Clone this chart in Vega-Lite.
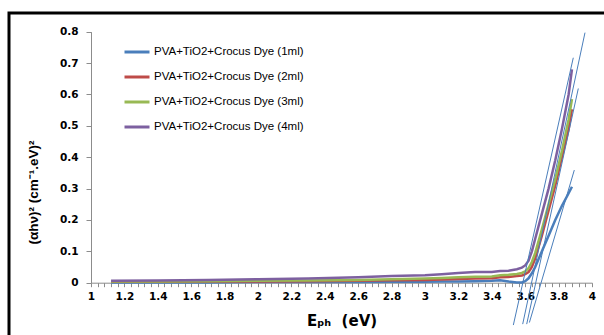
{
  "$schema": "https://vega.github.io/schema/vega-lite/v6.json",
  "width": 601,
  "height": 328,
  "autosize": {"type": "none"},
  "padding": {"left": 9, "top": 13, "right": -6, "bottom": -6},
  "background": "white",
  "config": {"view": {"stroke": "black", "strokeWidth": 3, "fill": "white"}},
  "datasets": {
    "curves": [
      {"E": 1.12, "v": 0.001, "s": "PVA+TiO2+Crocus Dye (1ml)"},
      {"E": 1.4, "v": 0.001, "s": "PVA+TiO2+Crocus Dye (1ml)"},
      {"E": 1.7, "v": 0.001, "s": "PVA+TiO2+Crocus Dye (1ml)"},
      {"E": 2.0, "v": 0.002, "s": "PVA+TiO2+Crocus Dye (1ml)"},
      {"E": 2.3, "v": 0.002, "s": "PVA+TiO2+Crocus Dye (1ml)"},
      {"E": 2.6, "v": 0.002, "s": "PVA+TiO2+Crocus Dye (1ml)"},
      {"E": 2.8, "v": 0.003, "s": "PVA+TiO2+Crocus Dye (1ml)"},
      {"E": 3.0, "v": 0.003, "s": "PVA+TiO2+Crocus Dye (1ml)"},
      {"E": 3.1, "v": 0.004, "s": "PVA+TiO2+Crocus Dye (1ml)"},
      {"E": 3.2, "v": 0.004, "s": "PVA+TiO2+Crocus Dye (1ml)"},
      {"E": 3.3, "v": 0.005, "s": "PVA+TiO2+Crocus Dye (1ml)"},
      {"E": 3.4, "v": 0.006, "s": "PVA+TiO2+Crocus Dye (1ml)"},
      {"E": 3.45, "v": 0.008, "s": "PVA+TiO2+Crocus Dye (1ml)"},
      {"E": 3.5, "v": 0.004, "s": "PVA+TiO2+Crocus Dye (1ml)"},
      {"E": 3.55, "v": 0.001, "s": "PVA+TiO2+Crocus Dye (1ml)"},
      {"E": 3.58, "v": 0.001, "s": "PVA+TiO2+Crocus Dye (1ml)"},
      {"E": 3.6, "v": 0.005, "s": "PVA+TiO2+Crocus Dye (1ml)"},
      {"E": 3.62, "v": 0.014, "s": "PVA+TiO2+Crocus Dye (1ml)"},
      {"E": 3.64, "v": 0.03, "s": "PVA+TiO2+Crocus Dye (1ml)"},
      {"E": 3.66, "v": 0.05, "s": "PVA+TiO2+Crocus Dye (1ml)"},
      {"E": 3.7, "v": 0.1, "s": "PVA+TiO2+Crocus Dye (1ml)"},
      {"E": 3.74, "v": 0.15, "s": "PVA+TiO2+Crocus Dye (1ml)"},
      {"E": 3.78, "v": 0.2, "s": "PVA+TiO2+Crocus Dye (1ml)"},
      {"E": 3.82, "v": 0.245, "s": "PVA+TiO2+Crocus Dye (1ml)"},
      {"E": 3.86, "v": 0.285, "s": "PVA+TiO2+Crocus Dye (1ml)"},
      {"E": 3.88, "v": 0.306, "s": "PVA+TiO2+Crocus Dye (1ml)"},
      {"E": 1.12, "v": 0.003, "s": "PVA+TiO2+Crocus Dye (2ml)"},
      {"E": 1.4, "v": 0.003, "s": "PVA+TiO2+Crocus Dye (2ml)"},
      {"E": 1.7, "v": 0.004, "s": "PVA+TiO2+Crocus Dye (2ml)"},
      {"E": 2.0, "v": 0.004, "s": "PVA+TiO2+Crocus Dye (2ml)"},
      {"E": 2.3, "v": 0.005, "s": "PVA+TiO2+Crocus Dye (2ml)"},
      {"E": 2.6, "v": 0.006, "s": "PVA+TiO2+Crocus Dye (2ml)"},
      {"E": 2.8, "v": 0.008, "s": "PVA+TiO2+Crocus Dye (2ml)"},
      {"E": 3.0, "v": 0.009, "s": "PVA+TiO2+Crocus Dye (2ml)"},
      {"E": 3.1, "v": 0.01, "s": "PVA+TiO2+Crocus Dye (2ml)"},
      {"E": 3.2, "v": 0.012, "s": "PVA+TiO2+Crocus Dye (2ml)"},
      {"E": 3.3, "v": 0.013, "s": "PVA+TiO2+Crocus Dye (2ml)"},
      {"E": 3.4, "v": 0.014, "s": "PVA+TiO2+Crocus Dye (2ml)"},
      {"E": 3.45, "v": 0.017, "s": "PVA+TiO2+Crocus Dye (2ml)"},
      {"E": 3.5, "v": 0.018, "s": "PVA+TiO2+Crocus Dye (2ml)"},
      {"E": 3.55, "v": 0.021, "s": "PVA+TiO2+Crocus Dye (2ml)"},
      {"E": 3.58, "v": 0.023, "s": "PVA+TiO2+Crocus Dye (2ml)"},
      {"E": 3.6, "v": 0.027, "s": "PVA+TiO2+Crocus Dye (2ml)"},
      {"E": 3.62, "v": 0.034, "s": "PVA+TiO2+Crocus Dye (2ml)"},
      {"E": 3.64, "v": 0.05, "s": "PVA+TiO2+Crocus Dye (2ml)"},
      {"E": 3.66, "v": 0.078, "s": "PVA+TiO2+Crocus Dye (2ml)"},
      {"E": 3.7, "v": 0.15, "s": "PVA+TiO2+Crocus Dye (2ml)"},
      {"E": 3.74, "v": 0.23, "s": "PVA+TiO2+Crocus Dye (2ml)"},
      {"E": 3.78, "v": 0.31, "s": "PVA+TiO2+Crocus Dye (2ml)"},
      {"E": 3.82, "v": 0.4, "s": "PVA+TiO2+Crocus Dye (2ml)"},
      {"E": 3.86, "v": 0.49, "s": "PVA+TiO2+Crocus Dye (2ml)"},
      {"E": 3.88, "v": 0.553, "s": "PVA+TiO2+Crocus Dye (2ml)"},
      {"E": 1.12, "v": 0.004, "s": "PVA+TiO2+Crocus Dye (3ml)"},
      {"E": 1.4, "v": 0.004, "s": "PVA+TiO2+Crocus Dye (3ml)"},
      {"E": 1.7, "v": 0.005, "s": "PVA+TiO2+Crocus Dye (3ml)"},
      {"E": 2.0, "v": 0.006, "s": "PVA+TiO2+Crocus Dye (3ml)"},
      {"E": 2.3, "v": 0.007, "s": "PVA+TiO2+Crocus Dye (3ml)"},
      {"E": 2.6, "v": 0.009, "s": "PVA+TiO2+Crocus Dye (3ml)"},
      {"E": 2.8, "v": 0.011, "s": "PVA+TiO2+Crocus Dye (3ml)"},
      {"E": 3.0, "v": 0.013, "s": "PVA+TiO2+Crocus Dye (3ml)"},
      {"E": 3.1, "v": 0.015, "s": "PVA+TiO2+Crocus Dye (3ml)"},
      {"E": 3.2, "v": 0.017, "s": "PVA+TiO2+Crocus Dye (3ml)"},
      {"E": 3.3, "v": 0.019, "s": "PVA+TiO2+Crocus Dye (3ml)"},
      {"E": 3.4, "v": 0.02, "s": "PVA+TiO2+Crocus Dye (3ml)"},
      {"E": 3.45, "v": 0.024, "s": "PVA+TiO2+Crocus Dye (3ml)"},
      {"E": 3.5, "v": 0.025, "s": "PVA+TiO2+Crocus Dye (3ml)"},
      {"E": 3.55, "v": 0.028, "s": "PVA+TiO2+Crocus Dye (3ml)"},
      {"E": 3.58, "v": 0.031, "s": "PVA+TiO2+Crocus Dye (3ml)"},
      {"E": 3.6, "v": 0.036, "s": "PVA+TiO2+Crocus Dye (3ml)"},
      {"E": 3.62, "v": 0.046, "s": "PVA+TiO2+Crocus Dye (3ml)"},
      {"E": 3.64, "v": 0.066, "s": "PVA+TiO2+Crocus Dye (3ml)"},
      {"E": 3.66, "v": 0.095, "s": "PVA+TiO2+Crocus Dye (3ml)"},
      {"E": 3.7, "v": 0.17, "s": "PVA+TiO2+Crocus Dye (3ml)"},
      {"E": 3.74, "v": 0.25, "s": "PVA+TiO2+Crocus Dye (3ml)"},
      {"E": 3.78, "v": 0.33, "s": "PVA+TiO2+Crocus Dye (3ml)"},
      {"E": 3.82, "v": 0.42, "s": "PVA+TiO2+Crocus Dye (3ml)"},
      {"E": 3.86, "v": 0.52, "s": "PVA+TiO2+Crocus Dye (3ml)"},
      {"E": 3.88, "v": 0.585, "s": "PVA+TiO2+Crocus Dye (3ml)"},
      {"E": 1.12, "v": 0.006, "s": "PVA+TiO2+Crocus Dye (4ml)"},
      {"E": 1.4, "v": 0.007, "s": "PVA+TiO2+Crocus Dye (4ml)"},
      {"E": 1.7, "v": 0.009, "s": "PVA+TiO2+Crocus Dye (4ml)"},
      {"E": 2.0, "v": 0.011, "s": "PVA+TiO2+Crocus Dye (4ml)"},
      {"E": 2.3, "v": 0.013, "s": "PVA+TiO2+Crocus Dye (4ml)"},
      {"E": 2.6, "v": 0.017, "s": "PVA+TiO2+Crocus Dye (4ml)"},
      {"E": 2.8, "v": 0.021, "s": "PVA+TiO2+Crocus Dye (4ml)"},
      {"E": 3.0, "v": 0.024, "s": "PVA+TiO2+Crocus Dye (4ml)"},
      {"E": 3.1, "v": 0.027, "s": "PVA+TiO2+Crocus Dye (4ml)"},
      {"E": 3.2, "v": 0.031, "s": "PVA+TiO2+Crocus Dye (4ml)"},
      {"E": 3.3, "v": 0.034, "s": "PVA+TiO2+Crocus Dye (4ml)"},
      {"E": 3.4, "v": 0.034, "s": "PVA+TiO2+Crocus Dye (4ml)"},
      {"E": 3.45, "v": 0.037, "s": "PVA+TiO2+Crocus Dye (4ml)"},
      {"E": 3.5, "v": 0.038, "s": "PVA+TiO2+Crocus Dye (4ml)"},
      {"E": 3.55, "v": 0.043, "s": "PVA+TiO2+Crocus Dye (4ml)"},
      {"E": 3.58, "v": 0.048, "s": "PVA+TiO2+Crocus Dye (4ml)"},
      {"E": 3.6, "v": 0.055, "s": "PVA+TiO2+Crocus Dye (4ml)"},
      {"E": 3.62, "v": 0.07, "s": "PVA+TiO2+Crocus Dye (4ml)"},
      {"E": 3.64, "v": 0.1, "s": "PVA+TiO2+Crocus Dye (4ml)"},
      {"E": 3.66, "v": 0.14, "s": "PVA+TiO2+Crocus Dye (4ml)"},
      {"E": 3.7, "v": 0.22, "s": "PVA+TiO2+Crocus Dye (4ml)"},
      {"E": 3.74, "v": 0.3, "s": "PVA+TiO2+Crocus Dye (4ml)"},
      {"E": 3.78, "v": 0.39, "s": "PVA+TiO2+Crocus Dye (4ml)"},
      {"E": 3.82, "v": 0.49, "s": "PVA+TiO2+Crocus Dye (4ml)"},
      {"E": 3.86, "v": 0.6, "s": "PVA+TiO2+Crocus Dye (4ml)"},
      {"E": 3.88, "v": 0.68, "s": "PVA+TiO2+Crocus Dye (4ml)"}
    ],
    "tangents": [
      {"id": "t1", "E": 3.888, "v": 0.717},
      {"id": "t1", "E": 3.529, "v": -0.135},
      {"id": "t2", "E": 3.958, "v": 0.797},
      {"id": "t2", "E": 3.585, "v": -0.132},
      {"id": "t3", "E": 3.918, "v": 0.619},
      {"id": "t3", "E": 3.609, "v": -0.132},
      {"id": "t4", "E": 3.894, "v": 0.359},
      {"id": "t4", "E": 3.625, "v": -0.127}
    ]
  },
  "layer": [
    {
      "data": {"name": "curves"},
      "mark": {"type": "line", "strokeWidth": 2.5, "clip": false},
      "encoding": {
        "x": {
          "field": "E", "type": "quantitative",
          "scale": {"domain": [1, 4], "range": [82, 583], "nice": false, "zero": false},
          "axis": {
            "orient": "bottom", "offset": -58.3,
            "values": [1, 1.04, 1.08, 1.12, 1.16, 1.2, 1.24, 1.28, 1.32, 1.36, 1.4, 1.44, 1.48, 1.52, 1.56, 1.6, 1.64, 1.68, 1.72, 1.76, 1.8, 1.84, 1.88, 1.92, 1.96, 2, 2.04, 2.08, 2.12, 2.16, 2.2, 2.24, 2.28, 2.32, 2.36, 2.4, 2.44, 2.48, 2.52, 2.56, 2.6, 2.64, 2.68, 2.72, 2.76, 2.8, 2.84, 2.88, 2.92, 2.96, 3, 3.04, 3.08, 3.12, 3.16, 3.2, 3.24, 3.28, 3.32, 3.36, 3.4, 3.44, 3.48, 3.52, 3.56, 3.6, 3.64, 3.68, 3.72, 3.76, 3.8, 3.84, 3.88, 3.92, 3.96, 4],
            "labelExpr": "round(datum.value * 100) % 20 == 0 ? format(datum.value, '~g') : ''",
            "grid": false,
            "domainColor": "#8c8c8c", "tickColor": "#8c8c8c", "tickSize": 4,
            "labelFont": "DejaVu Sans", "labelFontWeight": "bold", "labelFontSize": 10.5, "labelColor": "black",
            "labelPadding": 5, "labelOverlap": false, "labelFlush": false, "labelBound": false,
            "title": "Eₚₕ\u00a0 (eV)",
            "titleFont": "DejaVu Sans", "titleFontWeight": "bold", "titleFontSize": 15, "titleColor": "black",
            "titleY": 31, "titleBaseline": "top"
          }
        },
        "y": {
          "field": "v", "type": "quantitative",
          "scale": {"domain": [0, 0.8], "range": [269.7, 18.7], "nice": false, "zero": false},
          "axis": {
            "orient": "left", "offset": -82,
            "values": [0, 0.1, 0.2, 0.3, 0.4, 0.5, 0.6, 0.7, 0.8],
            "format": "~g",
            "grid": false,
            "domainColor": "#8c8c8c", "tickColor": "#8c8c8c", "tickSize": 5,
            "labelFont": "DejaVu Sans", "labelFontWeight": "bold", "labelFontSize": 10.5, "labelColor": "black",
            "labelPadding": 8, "labelOverlap": false,
            "title": "(αhν)² (cm⁻¹.eV)²",
            "titleFont": "Liberation Sans", "titleFontWeight": "bold", "titleFontSize": 13.5, "titleColor": "black",
            "titleAlign": "center", "titleAngle": -90, "titleBaseline": "bottom",
            "titleX": -51, "titleY": 179
          }
        },
        "color": {
          "field": "s", "type": "nominal",
          "scale": {
            "domain": ["PVA+TiO2+Crocus Dye (1ml)", "PVA+TiO2+Crocus Dye (2ml)", "PVA+TiO2+Crocus Dye (3ml)", "PVA+TiO2+Crocus Dye (4ml)"],
            "range": ["#4A7EBB", "#BE4B48", "#98B954", "#7D60A0"]
          },
          "legend": {
            "title": null, "orient": "none", "legendX": 114, "legendY": 25,
            "padding": 0, "symbolType": "stroke", "symbolSize": 625, "symbolStrokeWidth": 3,
            "labelFont": "Liberation Sans", "labelFontSize": 11.5, "labelColor": "black",
            "labelOffset": 3, "rowPadding": 5, "labelLimit": 300
          }
        }
      }
    },
    {
      "data": {"name": "tangents"},
      "mark": {"type": "line", "strokeWidth": 1, "color": "#4A7EBB", "clip": false},
      "encoding": {
        "x": {
          "field": "E", "type": "quantitative",
          "axis": {
            "orient": "bottom", "offset": -58.3,
            "values": [1, 1.04, 1.08, 1.12, 1.16, 1.2, 1.24, 1.28, 1.32, 1.36, 1.4, 1.44, 1.48, 1.52, 1.56, 1.6, 1.64, 1.68, 1.72, 1.76, 1.8, 1.84, 1.88, 1.92, 1.96, 2, 2.04, 2.08, 2.12, 2.16, 2.2, 2.24, 2.28, 2.32, 2.36, 2.4, 2.44, 2.48, 2.52, 2.56, 2.6, 2.64, 2.68, 2.72, 2.76, 2.8, 2.84, 2.88, 2.92, 2.96, 3, 3.04, 3.08, 3.12, 3.16, 3.2, 3.24, 3.28, 3.32, 3.36, 3.4, 3.44, 3.48, 3.52, 3.56, 3.6, 3.64, 3.68, 3.72, 3.76, 3.8, 3.84, 3.88, 3.92, 3.96, 4],
            "labelExpr": "round(datum.value * 100) % 20 == 0 ? format(datum.value, '~g') : ''",
            "grid": false,
            "domainColor": "#8c8c8c", "tickColor": "#8c8c8c", "tickSize": 4,
            "labelFont": "DejaVu Sans", "labelFontWeight": "bold", "labelFontSize": 10.5, "labelColor": "black",
            "labelPadding": 5, "labelOverlap": false, "labelFlush": false, "labelBound": false,
            "title": "Eₚₕ\u00a0 (eV)",
            "titleFont": "DejaVu Sans", "titleFontWeight": "bold", "titleFontSize": 15, "titleColor": "black",
            "titleY": 31, "titleBaseline": "top"
          }
        },
        "y": {
          "field": "v", "type": "quantitative",
          "axis": {
            "orient": "left", "offset": -82,
            "values": [0, 0.1, 0.2, 0.3, 0.4, 0.5, 0.6, 0.7, 0.8],
            "format": "~g",
            "grid": false,
            "domainColor": "#8c8c8c", "tickColor": "#8c8c8c", "tickSize": 5,
            "labelFont": "DejaVu Sans", "labelFontWeight": "bold", "labelFontSize": 10.5, "labelColor": "black",
            "labelPadding": 8, "labelOverlap": false,
            "title": "(αhν)² (cm⁻¹.eV)²",
            "titleFont": "Liberation Sans", "titleFontWeight": "bold", "titleFontSize": 13.5, "titleColor": "black",
            "titleAlign": "center", "titleAngle": -90, "titleBaseline": "bottom",
            "titleX": -51, "titleY": 179
          }
        },
        "detail": {"field": "id"}
      }
    }
  ]
}
